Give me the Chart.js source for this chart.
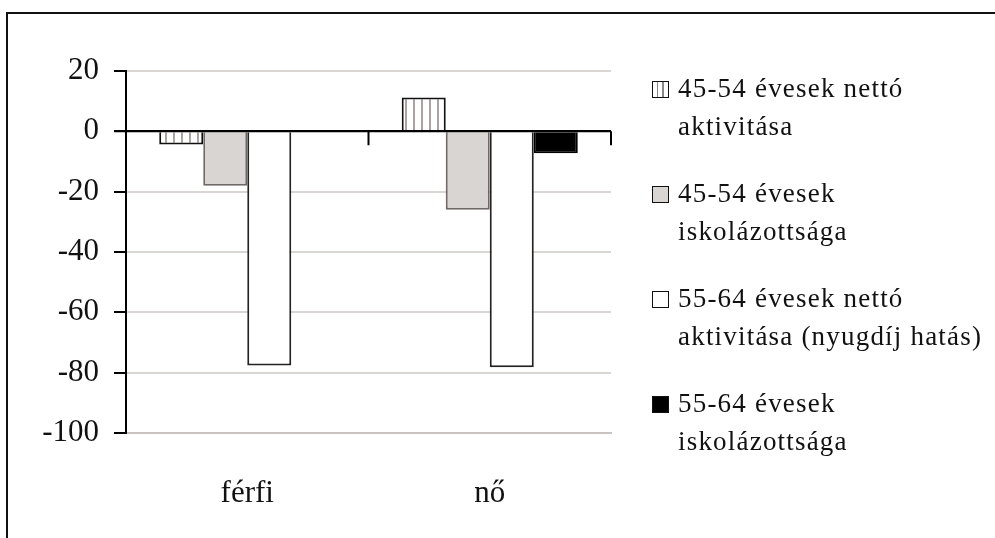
<!DOCTYPE html>
<html>
<head>
<meta charset="utf-8">
<script src="https://cdn.jsdelivr.net/npm/chart.js@4.4.1/dist/chart.umd.min.js"></script>
<style>
  html, body { margin: 0; padding: 0; background: #fff; overflow: hidden; }
  #wrap { position: relative; width: 995px; height: 538px; }
  #frame { position: absolute; left: 6px; top: 12px; width: 1200px; height: 800px;
           border-left: 2px solid #111; border-top: 2px solid #111; }
  canvas { position: absolute; left: 0; top: 0; }
  #legend { position: absolute; left: 652px; top: 69px; font-family: 'Liberation Serif', 'Times New Roman', serif;
            font-size: 27px; letter-spacing: 1.2px; color: #111; line-height: 38px; }
  .item { display: flex; align-items: flex-start; height: 76px; margin-bottom: 29px; white-space: nowrap; }
  .box { width: 15px; height: 15px; border: 1.5px solid #111; margin-top: 12px; margin-right: 9px; flex: none; }
</style>
</head>
<body>
<div id="wrap">
  <div id="frame"></div>
  <canvas id="c" width="995" height="538"></canvas>
  <div id="legend"></div>
</div>
<script>
const categories = ['férfi', 'nő'];
const seriesNames = [
  ['45-54 évesek nettó', 'aktivitása'],
  ['45-54 évesek', 'iskolázottsága'],
  ['55-64 évesek nettó', 'aktivitása (nyugdíj hatás)'],
  ['55-64 évesek', 'iskolázottsága']
];
const active4554 = [-4.4, 11.2];
const school4554 = [-18, -26];
const active5564 = [-77.6, -78.2];
const school5564 = [0, -7.3];
const yMin = -100, yMax = 20, yStep = 20;

// stripe pattern for first series
const pc = document.createElement('canvas');
pc.width = 8; pc.height = 8;
const px = pc.getContext('2d');
px.fillStyle = '#fff'; px.fillRect(0, 0, 8, 8);
px.fillStyle = '#aaa3a1'; px.fillRect(5, 0, 2, 8);
const ctx0 = document.getElementById('c').getContext('2d');
const stripe = ctx0.createPattern(pc, 'repeat');

const fills = [stripe, '#d9d5d2', '#ffffff', '#000000'];
const borders = ['#111', '#6e6866', '#222', '#000'];
const legendFills = [
  'repeating-linear-gradient(90deg,#fff 0 4px,#888 4px 5.5px)',
  '#d9d5d2', '#ffffff', '#000000'
];

const leg = document.getElementById('legend');
seriesNames.forEach((n, i) => {
  const d = document.createElement('div'); d.className = 'item';
  const b = document.createElement('div'); b.className = 'box'; b.style.background = legendFills[i];
  const t = document.createElement('div'); t.innerHTML = n[0] + '<br>' + n[1];
  d.appendChild(b); d.appendChild(t); leg.appendChild(d);
});

const values = [active4554, school4554, active5564, school5564];
const serif = "'Liberation Serif', 'Times New Roman', serif";

const zeroTicks = {
  id: 'zeroTicks',
  afterDatasetsDraw(chart) {
    const xs = chart.scales.x, ys = chart.scales.y, c = chart.ctx;
    const y0 = ys.getPixelForValue(0);
    const step = xs.getPixelForValue(1) - xs.getPixelForValue(0);
    c.save();
    c.strokeStyle = '#000'; c.lineWidth = 2;
    c.beginPath();
    c.moveTo(chart.chartArea.left - 12, y0); c.lineTo(chart.chartArea.right, y0);
    for (let i = 0; i < categories.length; i++) {
      const bx = xs.getPixelForValue(i) + step / 2;
      c.moveTo(bx, y0); c.lineTo(bx, y0 + 14);
    }
    c.stroke();
    c.restore();
  }
};

new Chart(ctx0, {
  type: 'bar',
  data: {
    labels: categories,
    datasets: values.map((v, i) => ({
      label: seriesNames[i].join(' '),
      data: v,
      backgroundColor: fills[i],
      borderColor: borders[i],
      borderWidth: 2,
      categoryPercentage: 0.726,
      barPercentage: 1
    }))
  },
  options: {
    responsive: false,
    animation: false,
    layout: { padding: { top: 71, right: 384, left: 0, bottom: 0 } },
    plugins: { legend: { display: false }, tooltip: { enabled: false } },
    scales: {
      x: {
        afterFit(s) { s.height = 105; },
        grid: {
          offset: true,
          drawTicks: false,
          color: (c) => c.index === categories.length ? '#c9c4c2' : 'rgba(0,0,0,0)',
          lineWidth: 2
        },
        border: { display: true, color: '#c9c4c2', width: 2 },
        ticks: { font: { family: serif, size: 31 }, color: '#111', padding: 42 }
      },
      y: {
        min: yMin, max: yMax,
        afterFit(s) { s.width = 126; },
        grid: {
          color: (c) => c.tick && c.tick.value === 0 ? '#000' : '#d9d5d3',
          lineWidth: 2,
          tickColor: '#000',
          tickLength: 12
        },
        border: { color: '#000', width: 2 },
        ticks: { stepSize: yStep, font: { family: serif, size: 31 }, color: '#111', padding: 15 }
      }
    }
  },
  plugins: [zeroTicks]
});
</script>
</body>
</html>
